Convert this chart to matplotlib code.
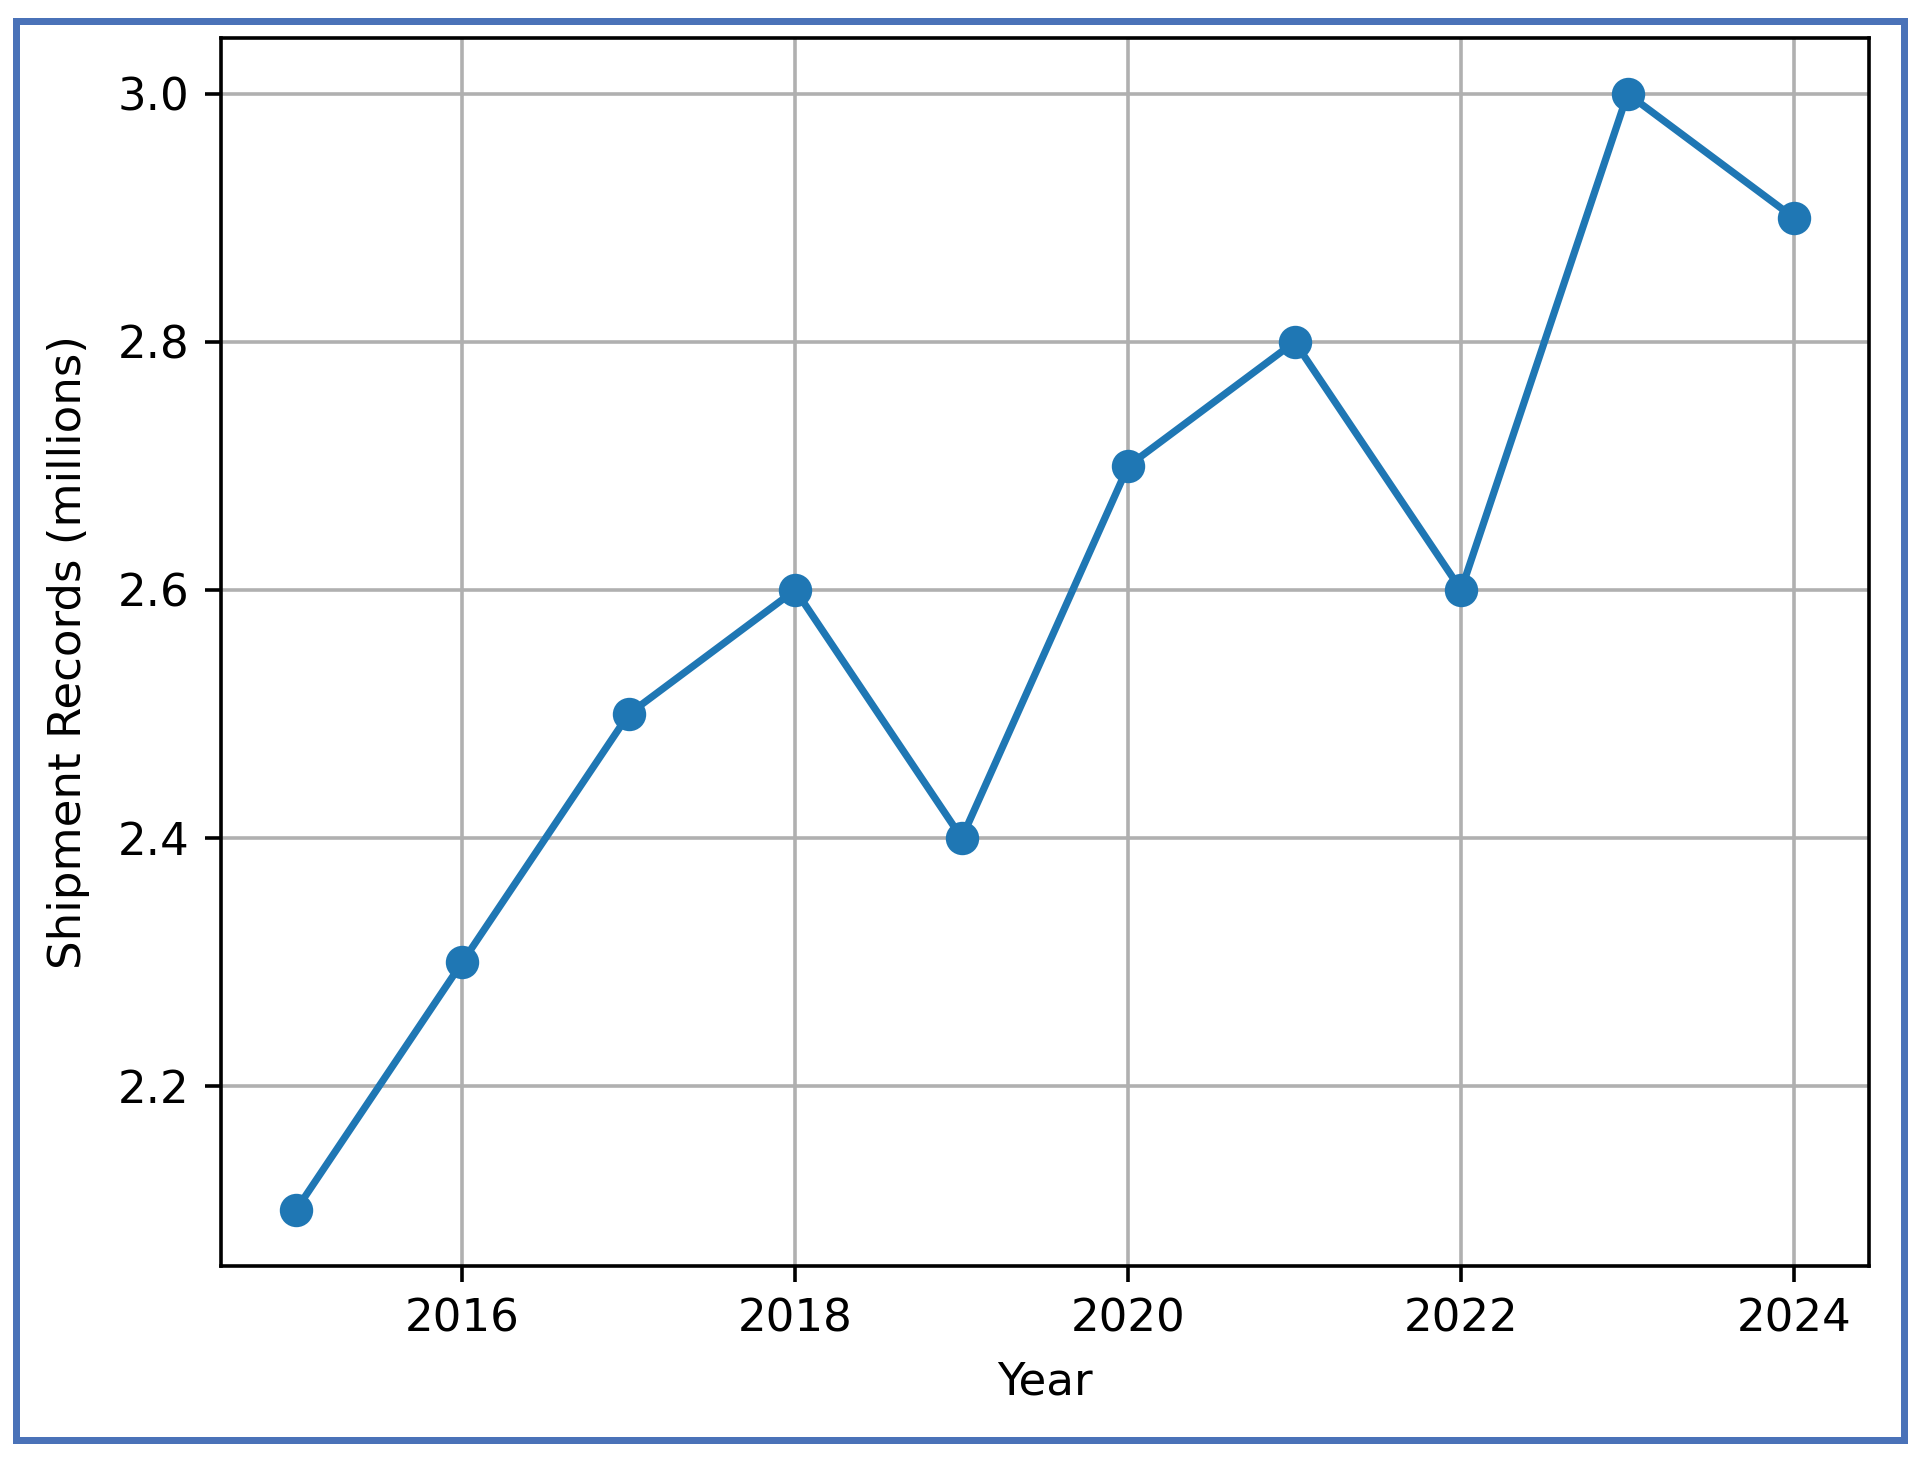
import matplotlib
matplotlib.use("Agg")
import matplotlib.pyplot as plt
from matplotlib.patches import Rectangle

years = [2015, 2016, 2017, 2018, 2019, 2020, 2021, 2022, 2023, 2024]
records = [2.1, 2.3, 2.5, 2.6, 2.4, 2.7, 2.8, 2.6, 3.0, 2.9]

W, H = 1929, 1462
DPI = 325
fig = plt.figure(figsize=(W / DPI, H / DPI), dpi=DPI)
ax = fig.add_axes([221 / W, 1 - 1266 / H, (1869 - 221) / W, (1266 - 38) / H])
ax.plot(years, records, marker='o', markersize=6.4, color='#1f77b4', linewidth=1.6)
ax.set_xlabel('Year', labelpad=4.5)
ax.set_ylabel('Shipment Records (millions)', labelpad=6.2)
ax.grid(True)

# blue border around the figure
bw = 7
rect = Rectangle(((12 + bw / 2) / W, 1 - (1443 - bw / 2) / H),
                 (1907 - 12 - bw) / W, (1443 - 17 - bw) / H,
                 transform=fig.transFigure, fill=False,
                 edgecolor='#4A72B8', linewidth=bw * 72 / DPI, zorder=10)
fig.patches.append(rect)

fig.savefig('out.png', dpi=DPI)
